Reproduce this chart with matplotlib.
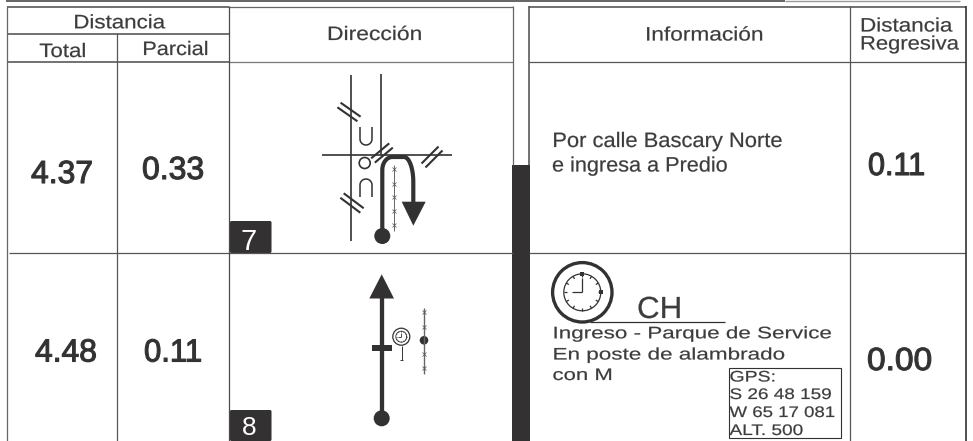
import numpy as np
import matplotlib
matplotlib.use('Agg')
import matplotlib.pyplot as plt
from matplotlib.patches import Circle, Polygon, Rectangle, FancyBboxPatch
from matplotlib.patheffects import AbstractPathEffect
from matplotlib.transforms import Affine2D

plt.rcParams['font.family'] = ['Liberation Sans', 'DejaVu Sans']

DARK = '#333132'
GRID = '#4a4a4a'
TEXT = '#3c3c3c'

total = ['4.37', '4.48']
parcial = ['0.33', '0.11']
regresiva = ['0.11', '0.00']
casillas = ['7', '8']
info_1 = ['Por calle Bascary Norte', 'e ingresa a Predio']
info_2 = ['Ingreso - Parque de Service', 'En poste de alambrado', 'con M']
gps = ['GPS:', 'S 26 48 159', 'W 65 17 081', 'ALT. 500']

fig = plt.figure(figsize=(9.73, 4.41), dpi=100)
ax = fig.add_axes([0, 0, 1, 1])
ax.set_xlim(0, 973)
ax.set_ylim(441, 0)
ax.axis('off')
renderer = fig.canvas.get_renderer()


class Stretch(AbstractPathEffect):
    # the source text is set wide, so scale the glyphs in x about the left edge
    def __init__(self, sx, x0, stroke=0.0):
        super().__init__()
        self.sx, self.x0, self.stroke = sx, x0, stroke

    def draw_path(self, renderer, gc, tpath, affine, rgbFace=None):
        gc0 = renderer.new_gc()
        gc0.copy_properties(gc)
        gc0.set_linewidth(self.stroke)
        gc0.set_foreground(rgbFace)
        wide = affine + Affine2D().translate(-self.x0, 0).scale(self.sx, 1).translate(self.x0, 0)
        renderer.draw_path(gc0, tpath, wide, rgbFace)
        gc0.restore()


def txt(x0, x1, y, s, size, c=TEXT, stroke=0.15):
    t = ax.text(x0, y, s, color=c, ha='left', va='baseline', fontsize=size)
    w = t.get_window_extent(renderer).width
    t.set_path_effects([Stretch((x1 - x0) / w, x0, stroke)])
    return t


def line(xs, ys, lw=0.9, c=GRID, **kw):
    ax.plot(xs, ys, color=c, lw=lw, solid_capstyle='butt', **kw)


def slashes(x, y, dx, dy, gap=2.8):
    # pair of short strokes crossing a road
    n = np.array([dy, -dx]) / np.hypot(dx, dy) * gap
    for s in (-1, 1):
        line([x - dx + s * n[0], x + dx + s * n[0]],
             [y - dy + s * n[1], y + dy + s * n[1]], lw=1.5, c=DARK)


def herradura(x0, x1, y_open, y_round):
    # U shaped lane mark, round end towards y_round
    r = (x1 - x0) / 2
    a = np.linspace(0, np.pi, 30)
    sign = 1 if y_round > y_open else -1
    xs = np.r_[x0, (x0 + x1) / 2 - r * np.cos(a), x1]
    ys = np.r_[y_open, y_round - sign * r + sign * r * np.sin(a), y_open]
    line(xs, ys, lw=1.1, c=DARK)


def alambrado(x, y0, y1, ys, lw=0.7):
    line([x, x], [y0, y1], lw=lw, c='#666666')
    ax.plot([x] * len(ys), ys, ls='none', marker='x', ms=3, mew=0.5, color='#555555')


def reloj(x, y, r, inner, lw1, lw2):
    ax.add_patch(Circle((x, y), r, fill=False, ec=DARK, lw=lw1))
    ax.add_patch(Circle((x, y), inner, fill=False, ec=DARK, lw=lw2))
    line([x, x], [y, y - inner * 0.75], lw=lw2, c=DARK)
    line([x, x - inner * 0.55], [y, y], lw=lw2, c=DARK)
    for a in np.arange(0, 360, 30):
        c, s = np.cos(np.radians(a)), np.sin(np.radians(a))
        line([x + c * inner * 0.84, x + c * inner], [y + s * inner * 0.84, y + s * inner], lw=lw2, c=DARK)
    q = inner * 0.1
    ax.add_patch(Rectangle((x - q, y - inner - q), 2 * q, 2 * q, color=DARK, lw=0))
    ax.add_patch(Rectangle((x + inner - q, y - q), 2 * q, 2 * q, color=DARK, lw=0))


# grid of the road book
line([6.5, 229], [6.5, 6.5], lw=1.1)
line([229, 512.5], [6.5, 6.5], c='#666666')
line([529, 966], [6.5, 6.5], lw=1.1)
line([6.5, 229], [33.5, 33.5], lw=1.1)
line([6.5, 229], [62, 62], lw=1.1)
line([229, 512.5], [62, 62], c='#777777')
line([529, 966], [62, 62], c='#555555')
line([9, 513], [253, 253], c='#555555')
line([529, 966], [253, 253], c='#555555')
line([6.5, 6.5], [6, 441], c='#666666')
line([117, 117], [33, 441], c='#555555')
line([229, 229], [6, 441])
line([512.5, 512.5], [6, 165], c='#666666')
line([529, 529], [6, 165], lw=1.1)
line([850, 850], [6, 441], c='#555555')
line([966, 966], [6, 441], lw=1.2, c=DARK)
line([6, 785], [0.5, 0.5], lw=1.2)
line([785, 960], [0.5, 0.5], lw=1.0, c='#999999')
ax.add_patch(Rectangle((512, 165), 17.5, 276, color=DARK, lw=0))

# headers
txt(73.3, 166, 28.3, 'Distancia', 14)
txt(39.3, 86.7, 57, 'Total', 14)
txt(142.3, 209.3, 55, 'Parcial', 14)
txt(327, 423, 40, 'Dirección', 14)
txt(645, 764.3, 40.5, 'Información', 14)
txt(860, 953.3, 31.5, 'Distancia', 14)
txt(860, 960, 49.5, 'Regresiva', 14)

# distances
for s, x0, x1, y in zip(total, [31, 35], [93, 97], [183, 361.5]):
    txt(x0, x1, y, s, 23, DARK, 0.8)
for s, x0, x1, y in zip(parcial, [142, 144], [204, 202], [179, 361.5]):
    txt(x0, x1, y, s, 23, DARK, 0.8)
for s, x0, x1, y in zip(regresiva, [868, 867], [925, 932], [175, 370]):
    txt(x0, x1, y, s, 23, DARK, 0.8)

# box numbers
for y0, h, n, base, size in zip([221, 410], [32, 31], casillas, [249.5, 435], [21, 19]):
    ax.add_patch(FancyBboxPatch((230, y0), 41.5, h, boxstyle='round,pad=0,rounding_size=1.5',
                                fc=DARK, ec='none', lw=0))
    ax.text(249, base, n, color='white', ha='center', va='baseline', fontsize=size)

# diagram row 7
line([350.7, 350.7], [75, 241], lw=1.2, c=DARK)
line([381, 381], [74, 155], lw=1.2, c=DARK)
line([322, 452], [155, 155], lw=1.2, c=DARK)
slashes(349, 112, 10, 7)
slashes(352, 203, 10, 7.5)
slashes(382, 153, 9, -7.5)
slashes(432, 157, 8.5, -8.5)
herradura(360, 372, 127, 145)
herradura(360, 372, 197, 179)
ax.add_patch(Circle((364.7, 163), 5.5, fill=False, ec=DARK, lw=1.2))
alambrado(394.3, 165, 231, [169, 184, 197, 211, 225])
t = np.linspace(0, np.pi / 2, 20)
arc_x = np.r_[382.3, 382.3 + 10 * (1 - np.cos(t)), 404 + 9.3 * np.sin(t), 413.3]
arc_y = np.r_[232, 170 - 13 * np.sin(t), 157 + 25 * (1 - np.cos(t)), 205]
line(arc_x, arc_y, lw=3, c=DARK)
ax.add_patch(Polygon([[401.7, 201.7], [425.7, 201.7], [413.3, 225.7]], color=DARK, lw=0))
ax.add_patch(Circle((382.3, 236), 8, color=DARK, lw=0))

# diagram row 8
line([381.7, 381.7], [295, 420], lw=3.1, c=DARK)
ax.add_patch(Polygon([[369.3, 298.5], [394, 298.5], [381.7, 274.3]], color=DARK, lw=0))
ax.add_patch(Rectangle((371.7, 345), 20.3, 6, color=DARK, lw=0))
ax.add_patch(Circle((381.7, 418.3), 8, color=DARK, lw=0))
reloj(401.3, 336.7, 8.5, 5.5, 0.9, 0.6)
line([401.5, 401.5], [345.5, 359.5], lw=0.7, c=DARK)
line([400, 403], [359.5, 359.5], lw=0.7, c=DARK)
alambrado(424, 308, 374, [311.7, 326.7, 354, 367.7], lw=1.0)
ax.add_patch(Circle((424, 340.3), 4.3, color=DARK, lw=0))

# information column
txt(552.3, 783, 147, info_1[0], 15)
txt(552, 728, 171.5, info_1[1], 15)
reloj(582.3, 292.3, 29.7, 18.5, 2.4, 0.9)
line([590, 725], [322, 322], lw=0.9, c=DARK)
txt(637, 682, 318, 'CH', 22)
for s, x1, y in zip(info_2, [832.7, 786, 613], [338.3, 359.5, 380]):
    txt(552.5, x1, y, s, 12)
ax.add_patch(Rectangle((728.5, 367.5), 112, 70, fill=False, ec=DARK, lw=0.8))
for s, x1, y in zip(gps, [775.5, 831.7, 835, 803], [381.5, 399, 417, 435]):
    txt(729.5, x1, y, s, 11)

fig.savefig('out.png', dpi=100)
